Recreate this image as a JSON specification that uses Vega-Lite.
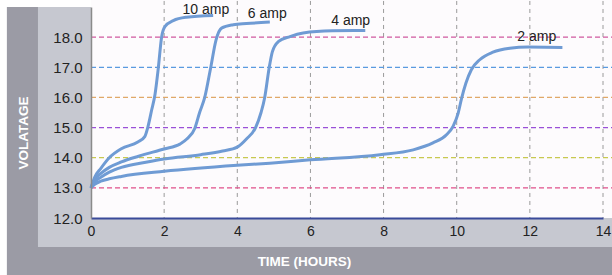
{
  "$schema": "https://vega.github.io/schema/vega-lite/v6.json",
  "width": 512,
  "height": 211,
  "autosize": {"type": "none"},
  "padding": {"left": 91, "top": 7, "right": 9, "bottom": 57},
  "background": "#ffffff",
  "config": {"view": {"stroke": null}, "font": "Liberation Sans"},
  "datasets": {
    "curves": [
      {"s": "10 amp", "t": 0, "v": 13.0}, {"s": "10 amp", "t": 0.1, "v": 13.35}, {"s": "10 amp", "t": 0.27, "v": 13.65}, {"s": "10 amp", "t": 0.5, "v": 14.0}, {"s": "10 amp", "t": 0.83, "v": 14.3}, {"s": "10 amp", "t": 1.28, "v": 14.52}, {"s": "10 amp", "t": 1.47, "v": 14.7}, {"s": "10 amp", "t": 1.56, "v": 15.04}, {"s": "10 amp", "t": 1.66, "v": 15.59}, {"s": "10 amp", "t": 1.75, "v": 16.1}, {"s": "10 amp", "t": 1.84, "v": 16.97}, {"s": "10 amp", "t": 1.93, "v": 18.0}, {"s": "10 amp", "t": 2.02, "v": 18.35}, {"s": "10 amp", "t": 2.25, "v": 18.55}, {"s": "10 amp", "t": 2.61, "v": 18.66}, {"s": "10 amp", "t": 3.34, "v": 18.72},
      {"s": "6 amp", "t": 0, "v": 13.0}, {"s": "6 amp", "t": 0.1, "v": 13.28}, {"s": "6 amp", "t": 0.27, "v": 13.48}, {"s": "6 amp", "t": 0.5, "v": 13.68}, {"s": "6 amp", "t": 0.83, "v": 13.86}, {"s": "6 amp", "t": 1.3, "v": 14.05}, {"s": "6 amp", "t": 2.0, "v": 14.29}, {"s": "6 amp", "t": 2.43, "v": 14.45}, {"s": "6 amp", "t": 2.62, "v": 14.62}, {"s": "6 amp", "t": 2.84, "v": 14.98}, {"s": "6 amp", "t": 2.97, "v": 15.5}, {"s": "6 amp", "t": 3.11, "v": 16.0}, {"s": "6 amp", "t": 3.27, "v": 16.97}, {"s": "6 amp", "t": 3.42, "v": 17.91}, {"s": "6 amp", "t": 3.57, "v": 18.3}, {"s": "6 amp", "t": 3.89, "v": 18.41}, {"s": "6 amp", "t": 4.25, "v": 18.45}, {"s": "6 amp", "t": 4.89, "v": 18.5},
      {"s": "4 amp", "t": 0, "v": 13.0}, {"s": "4 amp", "t": 0.1, "v": 13.2}, {"s": "4 amp", "t": 0.27, "v": 13.35}, {"s": "4 amp", "t": 0.5, "v": 13.52}, {"s": "4 amp", "t": 0.83, "v": 13.68}, {"s": "4 amp", "t": 1.5, "v": 13.85}, {"s": "4 amp", "t": 2.0, "v": 13.96}, {"s": "4 amp", "t": 3.0, "v": 14.1}, {"s": "4 amp", "t": 3.6, "v": 14.22}, {"s": "4 amp", "t": 4.0, "v": 14.35}, {"s": "4 amp", "t": 4.25, "v": 14.62}, {"s": "4 amp", "t": 4.5, "v": 15.0}, {"s": "4 amp", "t": 4.65, "v": 15.5}, {"s": "4 amp", "t": 4.75, "v": 16.0}, {"s": "4 amp", "t": 4.87, "v": 16.97}, {"s": "4 amp", "t": 4.96, "v": 17.52}, {"s": "4 amp", "t": 5.12, "v": 17.85}, {"s": "4 amp", "t": 5.44, "v": 18.02}, {"s": "4 amp", "t": 5.8, "v": 18.14}, {"s": "4 amp", "t": 6.6, "v": 18.21}, {"s": "4 amp", "t": 7.5, "v": 18.22},
      {"s": "2 amp", "t": 0, "v": 13.0}, {"s": "2 amp", "t": 0.1, "v": 13.12}, {"s": "2 amp", "t": 0.27, "v": 13.22}, {"s": "2 amp", "t": 0.5, "v": 13.3}, {"s": "2 amp", "t": 0.83, "v": 13.38}, {"s": "2 amp", "t": 2.0, "v": 13.55}, {"s": "2 amp", "t": 4.0, "v": 13.75}, {"s": "2 amp", "t": 4.89, "v": 13.82}, {"s": "2 amp", "t": 6.0, "v": 13.93}, {"s": "2 amp", "t": 7.9, "v": 14.1}, {"s": "2 amp", "t": 8.81, "v": 14.26}, {"s": "2 amp", "t": 9.35, "v": 14.49}, {"s": "2 amp", "t": 9.72, "v": 14.76}, {"s": "2 amp", "t": 9.9, "v": 15.04}, {"s": "2 amp", "t": 10.04, "v": 15.48}, {"s": "2 amp", "t": 10.13, "v": 15.95}, {"s": "2 amp", "t": 10.25, "v": 16.47}, {"s": "2 amp", "t": 10.4, "v": 16.92}, {"s": "2 amp", "t": 10.63, "v": 17.25}, {"s": "2 amp", "t": 10.99, "v": 17.5}, {"s": "2 amp", "t": 11.45, "v": 17.63}, {"s": "2 amp", "t": 11.95, "v": 17.67}, {"s": "2 amp", "t": 12.89, "v": 17.66}
    ],
    "labels": [
      {"label": "10 amp", "t": 3.14, "v": 18.9},
      {"label": "6 amp", "t": 4.82, "v": 18.77},
      {"label": "4 amp", "t": 7.1, "v": 18.54},
      {"label": "2 amp", "t": 12.19, "v": 18.0}
    ],
    "hgrid": [
      {"v": 13, "c": "13"}, {"v": 14, "c": "14"}, {"v": 15, "c": "15"}, {"v": 16, "c": "16"}, {"v": 17, "c": "17"}, {"v": 18, "c": "18"}
    ],
    "vgrid": [
      {"t": 2}, {"t": 4}, {"t": 6}, {"t": 8}, {"t": 10}, {"t": 12}, {"t": 14}
    ]
  },
  "layer": [
    {
      "data": {"values": [{}]},
      "mark": {"type": "rect", "color": "#9b9ba5", "clip": false},
      "encoding": {
        "x": {"datum": -2.3, "type": "quantitative", "scale": {"domain": [0, 14], "nice": false, "zero": false},
          "axis": {"values": [0, 2, 4, 6, 8, 10, 12, 14], "grid": false, "ticks": false, "labelPadding": 6, "labelFontSize": 14, "labelColor": "#222222", "labelFlush": false, "labelOverlap": false, "domainColor": "#3a4a9a", "domainWidth": 2, "title": "TIME (HOURS)", "titleColor": "#ffffff", "titleFontSize": 13.5, "titleFontWeight": "bold", "titleX": 213, "titleY": 43.5, "titleAlign": "center", "titleBaseline": "middle", "zindex": 1}},
        "x2": {"datum": 14.25},
        "y": {"datum": 19, "type": "quantitative", "scale": {"domain": [12, 19], "nice": false, "zero": false},
          "axis": {"values": [12, 13, 14, 15, 16, 17, 18], "tickCount": 7, "format": ".1f", "grid": false, "ticks": false, "labelPadding": 9, "labelFontSize": 15, "labelColor": "#222222", "labelOverlap": false, "labelFlush": false, "domainColor": "#8a8a8a", "domainWidth": 1.5, "title": "VOLATAGE", "titleColor": "#ffffff", "titleFontSize": 13.5, "titleFontWeight": "bold", "titleAngle": -90, "titleX": -68, "titleY": 125.5, "titleAlign": "center", "titleBaseline": "middle", "zindex": 1}},
        "y2": {"datum": 10.1}
      }
    },
    {
      "data": {"values": [{}]},
      "mark": {"type": "rect", "color": "#c6c8d0", "clip": false},
      "encoding": {
        "x": {"datum": -1.45, "type": "quantitative"},
        "x2": {"datum": 14.25},
        "y": {"datum": 19, "type": "quantitative"},
        "y2": {"datum": 11.04}
      }
    },
    {
      "data": {"values": [{}]},
      "mark": {"type": "rect", "color": "#fdfbfd", "clip": false},
      "encoding": {
        "x": {"datum": 0, "type": "quantitative"},
        "x2": {"datum": 14.25},
        "y": {"datum": 19.23, "type": "quantitative"},
        "y2": {"datum": 12}
      }
    },
    {
      "data": {"name": "vgrid"},
      "mark": {"type": "rule", "color": "#9a9a9a", "strokeWidth": 1, "strokeDash": [4, 4], "clip": false},
      "encoding": {
        "x": {"field": "t", "type": "quantitative"},
        "y": {"datum": 19.2, "type": "quantitative"},
        "y2": {"datum": 12}
      }
    },
    {
      "data": {"name": "hgrid"},
      "mark": {"type": "rule", "strokeWidth": 1.2, "strokeDash": [5, 3], "clip": false},
      "encoding": {
        "y": {"field": "v", "type": "quantitative"},
        "x": {"datum": 0, "type": "quantitative"},
        "x2": {"datum": 14.25},
        "color": {"field": "c", "type": "nominal", "legend": null, "scale": {"domain": ["13", "14", "15", "16", "17", "18"], "range": ["#e0508a", "#c8c850", "#9a50d8", "#e0a868", "#5a9ae0", "#d05aa0"]}}
      }
    },
    {
      "data": {"name": "curves"},
      "mark": {"type": "line", "color": "#6f9bd4", "strokeWidth": 3, "interpolate": "monotone"},
      "encoding": {
        "x": {"field": "t", "type": "quantitative"},
        "y": {"field": "v", "type": "quantitative"},
        "detail": {"field": "s", "type": "nominal"}
      }
    },
    {
      "data": {"name": "labels"},
      "mark": {"type": "text", "fontSize": 14, "color": "#222222", "align": "center", "baseline": "middle", "clip": false},
      "encoding": {
        "x": {"field": "t", "type": "quantitative"},
        "y": {"field": "v", "type": "quantitative"},
        "text": {"field": "label"}
      }
    }
  ]
}
